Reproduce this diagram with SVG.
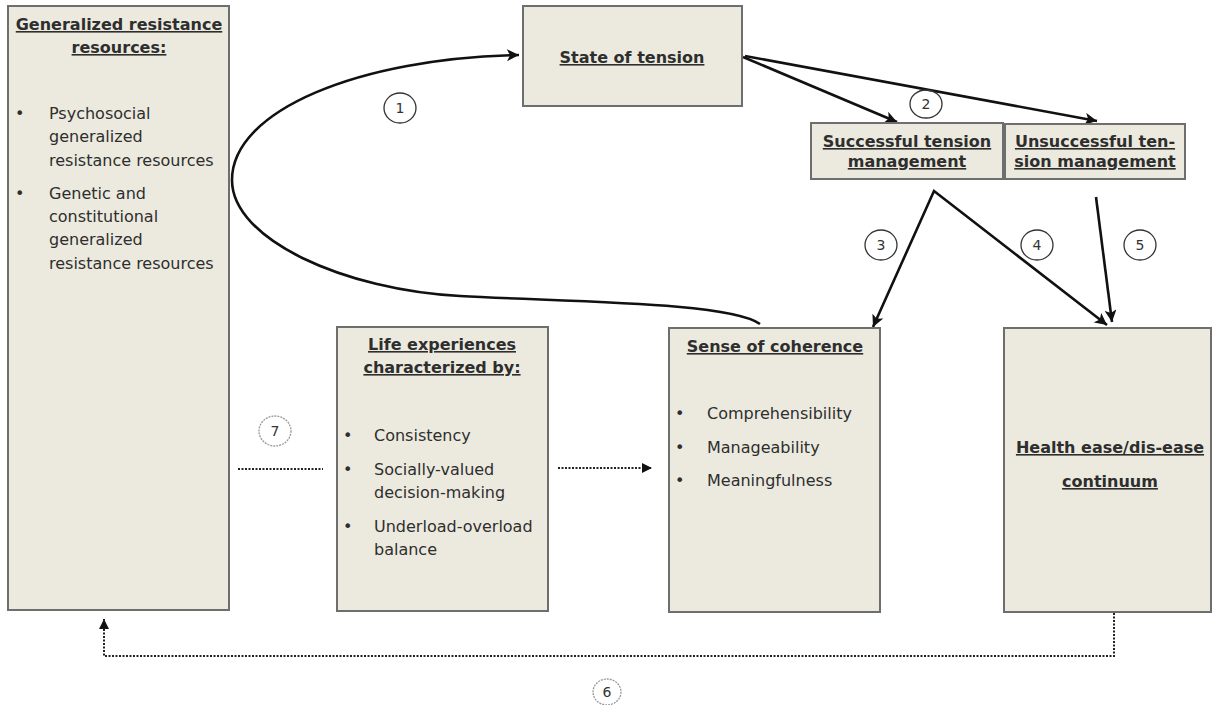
<svg xmlns="http://www.w3.org/2000/svg" width="1213" height="705" viewBox="0 0 1213 705">
<style>
.box{fill:#ECEADF;stroke:#6e6e6e;stroke-width:2}
.t{font-family:"DejaVu Sans",Verdana,sans-serif;font-size:16px;fill:#2e2e2e}
.h{font-weight:bold;text-decoration:underline;text-anchor:middle}
.c{font-family:"DejaVu Sans",Verdana,sans-serif;font-size:14px;fill:#333;text-anchor:middle}
.circ{fill:none;stroke:#333;stroke-width:1.3}
.circl{fill:none;stroke:#999;stroke-width:1.3;stroke-dasharray:2 1}
.ln{fill:none;stroke:#111;stroke-width:2.6}
.dot{fill:none;stroke:#222;stroke-width:2;stroke-dasharray:2 1.5}
</style>
<defs>
<marker id="ah" markerUnits="userSpaceOnUse" markerWidth="14" markerHeight="12" refX="12" refY="6" orient="auto-start-reverse">
<path d="M0,0 L12,6 L0,12 L3,6 Z" fill="#111"/>
</marker>
<marker id="ahs" markerUnits="userSpaceOnUse" markerWidth="12" markerHeight="10" refX="10" refY="5" orient="auto">
<path d="M0,0 L10,5 L0,10 Z" fill="#111"/>
</marker>
</defs>
<rect width="1213" height="705" fill="#fff"/>

<g id="connectors">
<path class="ln" d="M760,324 C730,302 570,302 460,296 C345,290 232,240 232,180 C232,110 360,58 519,55" marker-end="url(#ah)"/>
<line class="ln" x1="743" y1="57" x2="897" y2="122" marker-end="url(#ah)"/>
<line class="ln" x1="745" y1="56" x2="1097" y2="121" marker-end="url(#ah)"/>
<polyline class="ln" points="873,327 934,191 1107,325" marker-start="url(#ah)" marker-end="url(#ah)"/>
<line class="ln" x1="1096" y1="197" x2="1112" y2="322" marker-end="url(#ah)"/>
<line class="dot" x1="238" y1="469" x2="323" y2="469"/>
<line class="dot" x1="558" y1="468" x2="652" y2="468" marker-end="url(#ahs)"/>
<polyline class="dot" points="1114,613 1114,656 104,656 104,619" marker-end="url(#ahs)"/>
</g>

<g id="labels">
<ellipse class="circ" cx="400" cy="108" rx="16" ry="15"/><text class="c" x="400" y="113">1</text>
<ellipse class="circ" cx="926" cy="104" rx="16" ry="14"/><text class="c" x="926" y="109">2</text>
<ellipse class="circ" cx="881" cy="245" rx="16" ry="15"/><text class="c" x="881" y="250">3</text>
<ellipse class="circ" cx="1037" cy="245" rx="16" ry="15"/><text class="c" x="1037" y="250">4</text>
<ellipse class="circ" cx="1140" cy="245" rx="16" ry="15"/><text class="c" x="1140" y="250">5</text>
<ellipse class="circl" cx="607" cy="692" rx="14" ry="13"/><text class="c" x="607" y="697">6</text>
<ellipse class="circl" cx="275" cy="431" rx="16" ry="15"/><text class="c" x="275" y="436">7</text>
</g>

<g id="grr">
<rect class="box" x="8" y="6" width="221" height="604"/>
<text class="t h" x="119" y="30">Generalized resistance</text>
<text class="t h" x="119" y="53">resources:</text>
<text class="t" x="15" y="119">•</text>
<text class="t" x="49" y="119">Psychosocial</text>
<text class="t" x="49" y="142">generalized</text>
<text class="t" x="49" y="166">resistance resources</text>
<text class="t" x="15" y="199">•</text>
<text class="t" x="49" y="199">Genetic and</text>
<text class="t" x="49" y="222">constitutional</text>
<text class="t" x="49" y="245">generalized</text>
<text class="t" x="49" y="269">resistance resources</text>
</g>

<g id="tension">
<rect class="box" x="523" y="6" width="219" height="100"/>
<text class="t h" x="632" y="63">State of tension</text>
</g>

<g id="successful">
<rect class="box" x="811" y="123" width="192" height="56"/>
<text class="t h" x="907" y="147">Successful tension</text>
<text class="t h" x="907" y="167">management</text>
</g>

<g id="unsuccessful">
<rect class="box" x="1005" y="124" width="180" height="55"/>
<text class="t h" x="1095" y="147">Unsuccessful ten-</text>
<text class="t h" x="1095" y="167">sion management</text>
</g>

<g id="life">
<rect class="box" x="337" y="327" width="211" height="284"/>
<text class="t h" x="442" y="350">Life experiences</text>
<text class="t h" x="442" y="373">characterized by:</text>
<text class="t" x="343" y="441">•</text>
<text class="t" x="374" y="441">Consistency</text>
<text class="t" x="343" y="475">•</text>
<text class="t" x="374" y="475">Socially-valued</text>
<text class="t" x="374" y="498">decision-making</text>
<text class="t" x="343" y="532">•</text>
<text class="t" x="374" y="532">Underload-overload</text>
<text class="t" x="374" y="555">balance</text>
</g>

<g id="soc">
<rect class="box" x="669" y="328" width="211" height="284"/>
<text class="t h" x="775" y="352">Sense of coherence</text>
<text class="t" x="675" y="419">•</text>
<text class="t" x="707" y="419">Comprehensibility</text>
<text class="t" x="675" y="453">•</text>
<text class="t" x="707" y="453">Manageability</text>
<text class="t" x="675" y="486">•</text>
<text class="t" x="707" y="486">Meaningfulness</text>
</g>

<g id="health">
<rect class="box" x="1004" y="328" width="207" height="284"/>
<text class="t h" x="1110" y="453">Health ease/dis-ease</text>
<text class="t h" x="1110" y="487">continuum</text>
</g>
</svg>
